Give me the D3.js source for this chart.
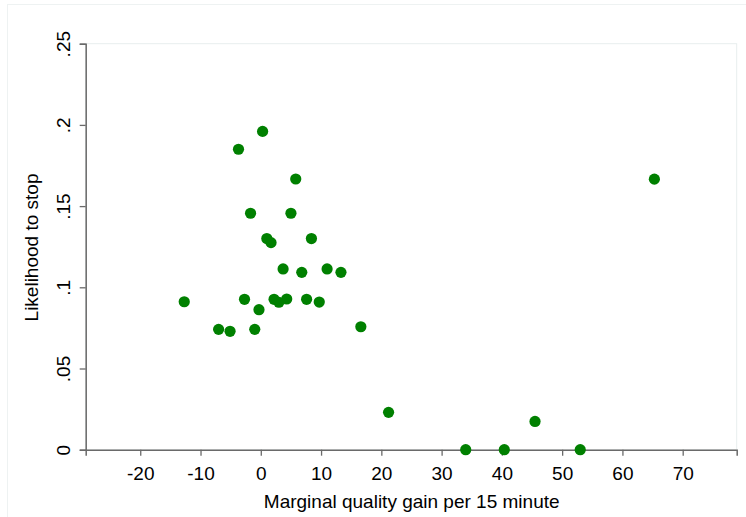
<!DOCTYPE html>
<html>
<head>
<meta charset="utf-8">
<script src="https://cdn.jsdelivr.net/npm/d3@7"></script>
<style>
  html, body { margin: 0; padding: 0; background: #fff; }
  svg { display: block; font-family: "Liberation Sans", Arial, sans-serif; }
</style>
</head>
<body>
<svg id="chart" width="746" height="517"></svg>
<script>
// Data
const gainValues = [-12.7, -7.0, -5.1, -3.7, -2.7, -1.7, -1.0, -0.3, 0.3, 1.0, 1.7, 2.2, 3.0, 3.7, 4.3,
                    5.0, 5.8, 6.8, 7.6, 8.4, 9.7, 11.0, 13.3, 16.6, 21.2, 34.0, 40.4, 45.5, 53.0, 65.3];
const stopValues = [0.0911, 0.0741, 0.0729, 0.185, 0.0926, 0.1456, 0.0741, 0.0862, 0.196, 0.130, 0.1275, 0.0926, 0.0908, 0.1113, 0.0928,
                    0.1456, 0.1667, 0.1092, 0.0926, 0.130, 0.0909, 0.1113, 0.1092, 0.0757, 0.023, 0, 0, 0.0174, 0, 0.1666];
const xTicks = [-20, -10, 0, 10, 20, 30, 40, 50, 60, 70];
const yTicks = [0, 0.05, 0.1, 0.15, 0.2, 0.25];
const yTickLabels = ["0", ".05", ".1", ".15", ".2", ".25"];
const xTitle = "Marginal quality gain per 15 minute";
const yTitle = "Likelihood to stop";

const svg = d3.select("#chart");
const plot = { left: 85.7, right: 736.7, top: 43.7, bottom: 449.7 };
const fontSize = 19;

// outer graph region frame
svg.append("rect")
  .attr("x", 7.5).attr("y", 4.5).attr("width", 760).attr("height", 540)
  .attr("fill", "none").attr("stroke", "#eef2f2").attr("stroke-width", 1);

// plot region frame
svg.append("rect")
  .attr("x", plot.left).attr("y", plot.top)
  .attr("width", plot.right - plot.left).attr("height", plot.bottom - plot.top)
  .attr("fill", "none").attr("stroke", "#e8eeee").attr("stroke-width", 1);

const x = d3.scaleLinear().domain([-29.05, 78.96]).range([plot.left, plot.right]);
const y = d3.scaleLinear().domain([0, 0.25]).range([plot.bottom, plot.top]);

const axisColor = "#6a6a6a";

// x axis
const xAxis = svg.append("g")
  .attr("transform", `translate(0,${plot.bottom})`)
  .call(d3.axisBottom(x).tickValues(xTicks).tickSize(6).tickFormat(d => d < 0 ? "-" + Math.abs(d) : String(d)));
xAxis.select(".domain").attr("stroke", axisColor).attr("stroke-width", 1.5);
xAxis.selectAll(".tick line").attr("stroke", axisColor).attr("stroke-width", 1.3);
xAxis.selectAll(".tick text")
  .attr("fill", "#000").attr("font-size", fontSize)
  .attr("font-family", "'Liberation Sans', Arial, sans-serif")
  .attr("y", 30.5).attr("dy", null);

// y axis
const yAxis = svg.append("g")
  .attr("transform", `translate(${plot.left},0)`)
  .call(d3.axisLeft(y).tickValues(yTicks).tickSize(6).tickFormat((d, i) => yTickLabels[i]));
yAxis.select(".domain").attr("stroke", axisColor).attr("stroke-width", 1.5);
yAxis.selectAll(".tick line").attr("stroke", axisColor).attr("stroke-width", 1.3);
yAxis.selectAll(".tick text")
  .attr("fill", "#000").attr("font-size", fontSize)
  .attr("font-family", "'Liberation Sans', Arial, sans-serif")
  .attr("x", 0).attr("y", 0).attr("dy", null)
  .attr("text-anchor", "middle")
  .attr("transform", "translate(-15.7,0) rotate(-90)");

// axis titles
svg.append("text")
  .attr("x", 411.7).attr("y", 508)
  .attr("text-anchor", "middle")
  .attr("font-size", fontSize).attr("fill", "#000")
  .text(xTitle);

svg.append("text")
  .attr("transform", `translate(37.5,247.5) rotate(-90)`)
  .attr("text-anchor", "middle")
  .attr("font-size", fontSize).attr("fill", "#000")
  .text(yTitle);

// points
svg.append("g")
  .selectAll("circle")
  .data(gainValues.map((g, i) => ({ g, s: stopValues[i] })))
  .join("circle")
  .attr("cx", d => x(d.g))
  .attr("cy", d => y(d.s))
  .attr("r", 5.6)
  .attr("fill", "#008000");
</script>
</body>
</html>
